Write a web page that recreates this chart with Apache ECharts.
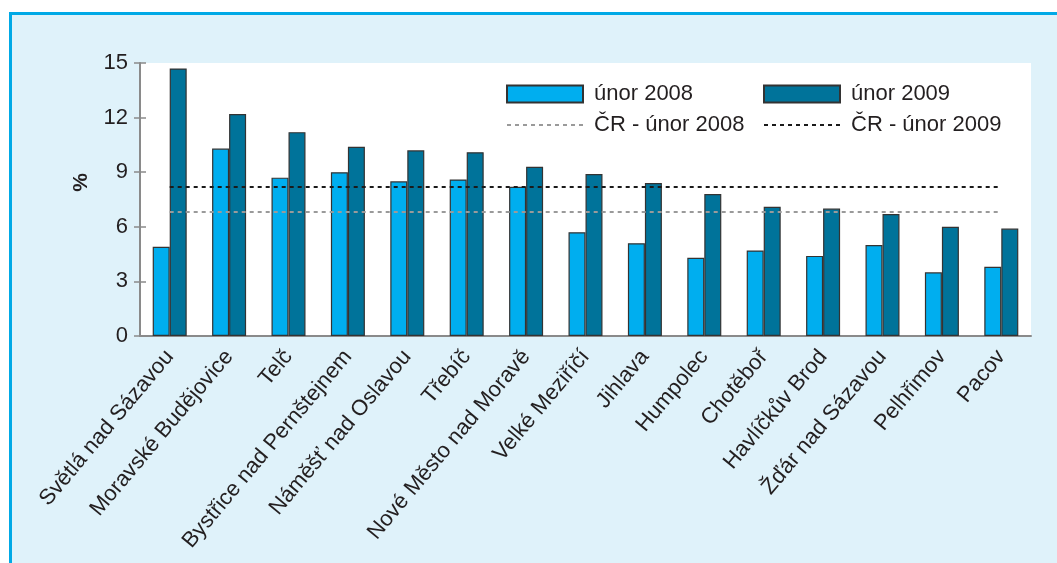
<!DOCTYPE html>
<html>
<head>
<meta charset="utf-8">
<script src="https://cdn.jsdelivr.net/npm/echarts@6/dist/echarts.min.js"></script>
<style>
  html, body { margin: 0; padding: 0; background: #fff; }
  #frame {
    position: absolute; left: 9px; top: 12px; width: 1100px; height: 600px;
    background: #dff2fa; border-top: 3px solid #00a9e6; border-left: 3px solid #00a9e6;
  }
  #chart { position: absolute; left: 0; top: 0; width: 1057px; height: 563px; }
</style>
</head>
<body>
<div id="frame"></div>
<div id="chart"></div>
<script>
// města
const categories = [
  'Světlá nad Sázavou', 'Moravské Budějovice', 'Telč', 'Bystřice nad Pernštejnem',
  'Náměšť nad Oslavou', 'Třebíč', 'Nové Město nad Moravě', 'Velké Meziříčí',
  'Jihlava', 'Humpolec', 'Chotěboř', 'Havlíčkův Brod', 'Žďár nad Sázavou',
  'Pelhřimov', 'Pacov'
]
const feb2008 = [4.9, 10.3, 8.7, 9.0, 8.5, 8.6, 8.2, 5.7, 5.1, 4.3, 4.7, 4.4, 5.0, 3.5, 3.8]
const feb2009 = [14.7, 12.2, 11.2, 10.4, 10.2, 10.1, 9.3, 8.9, 8.4, 7.8, 7.1, 7.0, 6.7, 6.0, 5.9]
// průměr ČR
const crFeb2008 = 6.8
const crFeb2009 = 8.2
const yMin = 0
const yMax = 15
const yStep = 3

const font = '"Liberation Sans", Arial, sans-serif'
const textColor = '#231f20'
const axisColor = '#8a8a8a'

const chart = echarts.init(document.getElementById('chart'), null, { renderer: 'canvas' })

function crLine(name, value, color) {
  return {
    name: name,
    type: 'line',
    data: [],
    symbol: 'none',
    color: color,
    lineStyle: { color: color, type: [4, 4], width: 1.5 },
    markLine: {
      silent: true,
      symbol: 'none',
      label: { show: false },
      lineStyle: { color: color, type: [4, 4], width: 2 },
      data: [[
        { coord: [categories[0], value] },
        { coord: [categories[categories.length - 1], value] }
      ]]
    }
  }
}

const legendText = { fontSize: 22, color: textColor, fontFamily: font, lineHeight: 17, padding: [0, 0, 0, 6] }

chart.setOption({
  backgroundColor: 'transparent',
  animation: false,
  textStyle: { fontFamily: font, color: textColor },
  grid: {
    left: 140, right: 26, top: 63, bottom: 227,
    show: true, backgroundColor: '#fff', borderWidth: 0
  },
  legend: [{
    left: 506, top: 83, orient: 'vertical', padding: 0,
    itemWidth: 76, itemHeight: 17, itemGap: 9,
    textStyle: legendText,
    data: [{ name: 'únor 2008', icon: 'rect' }, { name: 'ČR - únor 2008', itemStyle: { opacity: 0 } }]
  }, {
    left: 763, top: 83, orient: 'vertical', padding: 0,
    itemWidth: 76, itemHeight: 17, itemGap: 9,
    textStyle: legendText,
    data: [{ name: 'únor 2009', icon: 'rect' }, { name: 'ČR - únor 2009', itemStyle: { opacity: 0 } }]
  }],
  graphic: [{
    type: 'text', left: 71, top: 173, rotation: Math.PI / 2,
    style: { text: '%', font: 'bold 21px ' + font, fill: textColor }
  }],
  xAxis: [{
    type: 'category',
    data: categories,
    axisLine: { lineStyle: { color: axisColor, width: 2 } },
    axisTick: { length: 6, lineStyle: { color: axisColor, width: 1.5 } },
    axisLabel: { rotate: 50, fontSize: 22, color: textColor, margin: 17, interval: 0, fontFamily: font }
  }, {
    // druhá osa jen kvůli značkám dovnitř
    type: 'category',
    data: categories,
    position: 'bottom',
    axisLine: { show: false },
    axisTick: { inside: true, length: 6, lineStyle: { color: axisColor, width: 1.5 } },
    axisLabel: { show: false }
  }],
  yAxis: [{
    type: 'value',
    min: yMin, max: yMax, interval: yStep,
    splitLine: { show: false },
    axisLine: { show: true, lineStyle: { color: axisColor, width: 2 } },
    axisTick: { show: true, length: 6, lineStyle: { color: axisColor, width: 1.5 } },
    axisLabel: { fontSize: 22, color: textColor, margin: 12, fontFamily: font }
  }, {
    type: 'value',
    position: 'left',
    min: yMin, max: yMax, interval: yStep,
    splitLine: { show: false },
    axisLine: { show: false },
    axisTick: { show: true, inside: true, length: 6, lineStyle: { color: axisColor, width: 1.5 } },
    axisLabel: { show: false }
  }],
  series: [{
    name: 'únor 2008',
    type: 'bar',
    data: feb2008,
    barWidth: 17,
    barGap: '0%',
    itemStyle: { color: '#00aeef', borderColor: '#333', borderWidth: 1.2 }
  }, {
    name: 'únor 2009',
    type: 'bar',
    data: feb2009,
    barWidth: 17,
    itemStyle: { color: '#00739a', borderColor: '#333', borderWidth: 1.2 }
  },
  crLine('ČR - únor 2008', crFeb2008, '#9a9a9a'),
  crLine('ČR - únor 2009', crFeb2009, '#1a1a1a')]
})
</script>
</body>
</html>
